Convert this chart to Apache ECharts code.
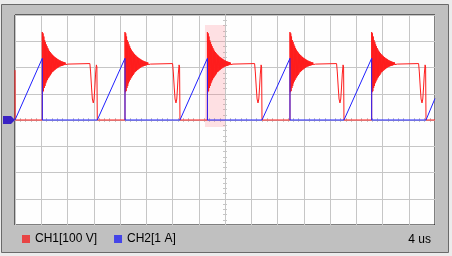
<!DOCTYPE html>
<html>
<head>
<meta charset="utf-8">
<script src="https://cdn.jsdelivr.net/npm/echarts@6/dist/echarts.min.js"></script>
<style>
html,body{margin:0;padding:0;background:#ececec;}
#chart{width:452px;height:256px;}
</style>
</head>
<body>
<div id="chart"></div>
<script>
// ---- Data (time in us, CH1 in V, CH2 in A) ----
const timeRangeUs = [0, 64];          // 16 div x 4 us
const ch1RangeV = [-400, 400];        // 8 div x 100 V
const ch2RangeA = [-4, 4];            // 8 div x 1 A
const rampStartUs = [0, 12.54, 25.14, 37.64, 50.13, 62.63];
const spikeUs = [4.16, 16.76, 29.32, 41.9, 54.35];
const rampPeakA = [2.35, 2.35, 2.35, 2.35, 2.35];
const spikePeakV = [335, 335, 335, 335, 335];
const ch1StartV = [190, 0];           // tail of previous dip at left edge
const ringStepUs = 0.06;              // sampling step of ringing after each spike
const ringV = [
  106, 330, 110, 318, 122, 304, 130, 297, 140, 288, 147, 281, 153, 274, 159, 268,
  163, 263, 168, 259, 172, 255, 177, 251, 182, 248, 184, 245, 187, 242, 190, 240,
  192, 237, 195, 235, 197, 233, 199, 231, 201, 229, 203, 227, 204, 226, 205, 224,
  206, 223, 207, 222, 208, 221, 209, 220, 210, 219, 211, 218, 212, 218, 212, 217,
  213, 217, 213, 216
];
const flatV = 215;
const dipOffsetUs = [-1.13, -1.02, -0.87, -0.75, -0.61, -0.49, -0.38, -0.26, -0.14, -0.06];
const dipV = [215, 183, 122, 80, 65, 80, 122, 175, 210, 202];
const ch2EndA = 0.82;                 // ramp value at the right edge
const cursorWindowUs = [28.95, 32];
const cursorWindowV = [-27, 362];
const legendNames = ['CH1[100 V]', 'CH2[1 A]'];
const timebaseLabel = '4 us';

// ---- Build series ----
const ch1 = [[timeRangeUs[0], ch1StartV[0]], [timeRangeUs[0] + 0.02, ch1StartV[1]]];
for (let k = 0; k < spikeUs.length; k++) {
  const S = spikeUs[k];
  ch1.push([S, 0], [S, spikePeakV[k]]);
  ringV.forEach((v, i) => ch1.push([S + (i + 1) * ringStepUs, v]));
  const R = rampStartUs[k + 1];
  ch1.push([R + dipOffsetUs[0], flatV]);
  dipOffsetUs.forEach((o, i) => ch1.push([R + o, dipV[i]]));
  ch1.push([R, 0]);
}
ch1.push([timeRangeUs[1], 0]);

const ch2 = [];
for (let k = 0; k < spikeUs.length; k++) {
  ch2.push([rampStartUs[k], 0], [spikeUs[k], rampPeakA[k]], [spikeUs[k], 0]);
}
ch2.push([rampStartUs[rampStartUs.length - 1], 0], [timeRangeUs[1], ch2EndA]);

const gridCol = '#c6c6c6';
const font = "'Liberation Sans', Arial, sans-serif";

const chart = echarts.init(document.getElementById('chart'), null, {renderer: 'canvas'});
const hidden = {show: false};
const baseX = {type: 'value', min: timeRangeUs[0], max: timeRangeUs[1], gridIndex: 0};
const baseY = {type: 'value', min: ch1RangeV[0], max: ch1RangeV[1], gridIndex: 0};

chart.setOption({
  animation: false,
  backgroundColor: '#ececec',
  graphic: [{
    type: 'rect', z: -10, silent: true,
    shape: {x: 1.5, y: 4.5, width: 447, height: 248},
    style: {fill: '#c0c0c0', stroke: '#6a6a6a', lineWidth: 1}
  }],
  title: {
    text: timebaseLabel, right: 21, top: 233, padding: 0,
    textStyle: {fontFamily: font, fontSize: 12, fontWeight: 'normal', color: '#000', lineHeight: 14}
  },
  legend: {
    left: 22, top: 233, padding: 0, itemGap: 17, itemWidth: 8, itemHeight: 8, icon: 'rect',
    textStyle: {fontFamily: font, fontSize: 12, color: '#000'},
    data: [
      {name: legendNames[0], itemStyle: {color: '#e84444'}},
      {name: legendNames[1], itemStyle: {color: '#4444e8'}}
    ]
  },
  grid: {left: 15, top: 15, width: 420, height: 210, show: true, backgroundColor: '#fefefe', borderColor: '#000', borderWidth: 1, containLabel: false},
  xAxis: [
    Object.assign({}, baseX, {interval: 4, axisLine: {show: false, onZero: false}, axisTick: hidden, axisLabel: hidden,
      splitLine: {show: true, lineStyle: {color: gridCol, width: 1}}}),
    Object.assign({}, baseX, {position: 'bottom', interval: 0.8,
      axisLine: {show: true, onZero: true, onZeroAxisIndex: 0, lineStyle: {color: gridCol}},
      axisTick: {show: true, inside: false, length: 2, lineStyle: {color: gridCol}}, axisLabel: hidden, splitLine: hidden}),
    Object.assign({}, baseX, {position: 'top', interval: 0.8,
      axisLine: {show: true, onZero: true, onZeroAxisIndex: 0, lineStyle: {color: gridCol}},
      axisTick: {show: true, inside: false, length: 2, lineStyle: {color: gridCol}}, axisLabel: hidden, splitLine: hidden}),
    {type: 'value', min: -(timeRangeUs[1] - timeRangeUs[0]) / 2, max: (timeRangeUs[1] - timeRangeUs[0]) / 2, gridIndex: 0, show: false, axisLine: {onZero: false}}
  ],
  yAxis: [
    Object.assign({}, baseY, {interval: 100, axisLine: {show: false, onZero: false}, axisTick: hidden, axisLabel: hidden,
      splitLine: {show: true, lineStyle: {color: gridCol, width: 1}}}),
    {type: 'value', min: ch2RangeA[0], max: ch2RangeA[1], gridIndex: 0, show: false, axisLine: {onZero: false}},
    Object.assign({}, baseY, {position: 'left', interval: 20,
      axisLine: {show: true, onZero: true, onZeroAxisIndex: 3, lineStyle: {color: gridCol}},
      axisTick: {show: true, inside: false, length: 2, lineStyle: {color: gridCol}}, axisLabel: hidden, splitLine: hidden}),
    Object.assign({}, baseY, {position: 'right', interval: 20,
      axisLine: {show: true, onZero: true, onZeroAxisIndex: 3, lineStyle: {color: gridCol}},
      axisTick: {show: true, inside: false, length: 2, lineStyle: {color: gridCol}}, axisLabel: hidden, splitLine: hidden})
  ],
  series: [
    {
      name: legendNames[0], type: 'line', xAxisIndex: 0, yAxisIndex: 0, data: ch1,
      showSymbol: false, symbol: 'none', color: '#ff1c1c',
      lineStyle: {color: '#ff1c1c', width: 1}, z: 3,
      markArea: {silent: true, itemStyle: {color: 'rgba(255,120,130,0.22)'},
        data: [[{coord: [cursorWindowUs[0], cursorWindowV[0]]}, {coord: [cursorWindowUs[1], cursorWindowV[1]]}]]}
    },
    {
      name: legendNames[1], type: 'line', xAxisIndex: 0, yAxisIndex: 1, data: ch2,
      showSymbol: false, symbol: 'none', color: '#2020ff',
      lineStyle: {color: '#2020ff', width: 1}, z: 4,
      markPoint: {silent: true, symbol: 'path://M0,0 L8,0 L12,4 L8,8 L0,8 Z', symbolSize: [12, 8], symbolOffset: [-6, 0],
        itemStyle: {color: '#3a22c4'}, label: {show: false},
        data: [{coord: [timeRangeUs[0], 0]}]}
    }
  ]
});
</script>
</body>
</html>
